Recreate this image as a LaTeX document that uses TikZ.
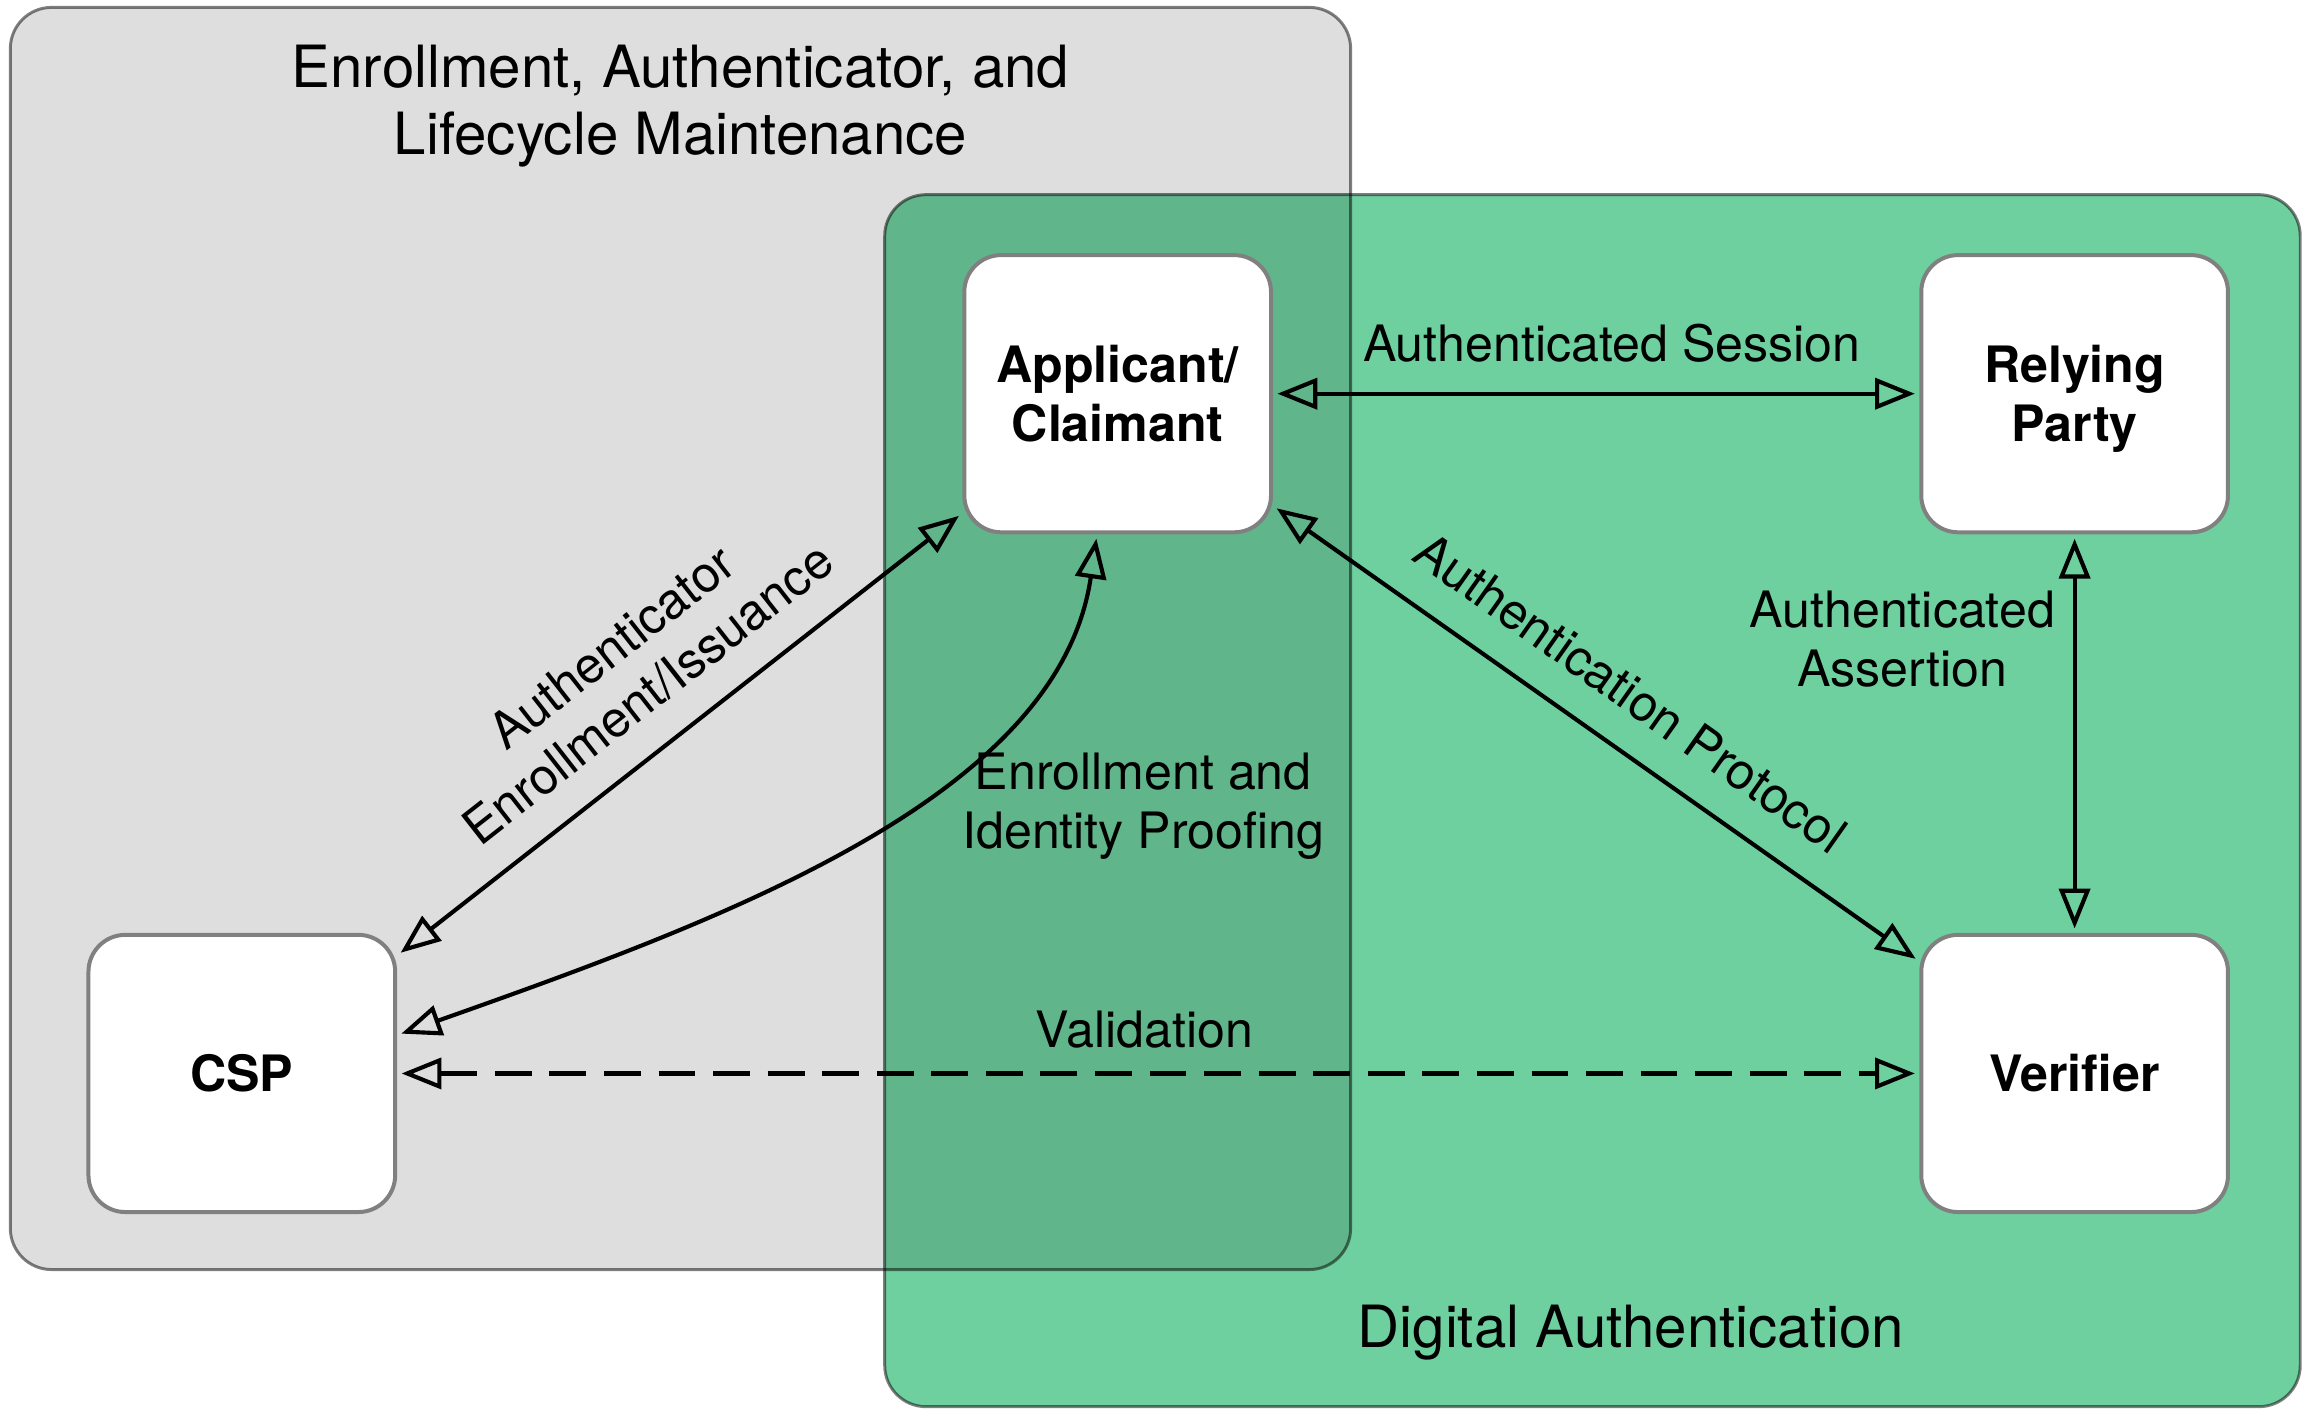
\documentclass[tikz,border=0pt]{standalone}
\usepackage{fontspec}
\setmainfont{TeX Gyre Heros}
\usetikzlibrary{arrows.meta}
\definecolor{boxgray}{RGB}{222,222,222}
\definecolor{boxgreen}{RGB}{111,208,159}
\definecolor{overlapgreen}{RGB}{97,181,138}
\definecolor{nodeborder}{RGB}{128,128,128}
\begin{document}
\begin{tikzpicture}[x=0.5pt,y=-0.5pt,
  entity/.style={draw=nodeborder, line width=1.35pt, fill=white, rounded corners=12.5pt,
    minimum width=104pt, minimum height=94pt, inner sep=0pt, align=center,
    font=\fontsize{17}{20}\selectfont\bfseries},
  lbl/.style={inner sep=0pt, align=center, font=\fontsize{17}{20}\selectfont},
  ttl/.style={inner sep=0pt, align=center, font=\fontsize{19.75}{23}\selectfont},
  link/.style={line width=1.4pt,
    {Triangle[open,length=13.5pt,width=10.5pt]}-{Triangle[open,length=13.5pt,width=10.5pt]},
    shorten <=1.5pt, shorten >=1.5pt},
  boxline/.style={draw=black, draw opacity=0.5, line width=1pt, rounded corners=14pt},
]
\path[use as bounding box] (0,0) rectangle (1568,966);

% container boxes
\fill[boxgray, rounded corners=14pt] (7,5) rectangle (916,861);
\fill[boxgreen, rounded corners=14pt] (600,132) rectangle (1560,954);
\begin{scope}
  \clip[rounded corners=14pt] (7,5) rectangle (916,861);
  \fill[overlapgreen, rounded corners=14pt] (600,132) rectangle (1560,954);
\end{scope}
\draw[boxline] (7,5) rectangle (916,861);
\draw[boxline] (600,132) rectangle (1560,954);

\node[ttl] (ttlA) at (461.5,72) {Enrollment, Authenticator, and\\Lifecycle Maintenance};
\node[ttl] (ttlB) at (1106,904) {Digital Authentication};

% entities
\node[entity] (app) at (758,267) {Applicant/\\Claimant};
\node[entity] (rp)  at (1407,267) {Relying\\\raisebox{0pt}[\height][0pt]{Party}};
\node[entity] (csp) at (164,728) {CSP};
\node[entity] (ver) at (1407,728) {Verifier};

% connectors
\draw[link] (app.east) -- node[lbl, pos=0.524, above=10pt] (lsession) {Authenticated Session} (rp.west);
\draw[link] (rp.south) -- node[lbl, pos=0.263, anchor=east, xshift=-6pt] (lassert) {Authenticated\\Assertion} (ver.north);
\draw[link] ([yshift=-38pt]app.east) -- node[lbl, pos=0.506, sloped, above=11pt] (lproto) {Authentication Protocol} ([yshift=38pt]ver.west);
\draw[link] ([yshift=40pt]csp.east) -- node[lbl, pos=0.5, sloped, above=10.5pt] (lauth) {Authenticator\\Enrollment/Issuance} ([yshift=-40.5pt]app.west);
\draw[link] ([xshift=-7pt]app.south) .. controls (718,541) and (490,624) .. node[lbl, pos=0.4, anchor=west, xshift=11pt, yshift=-5pt] (lenroll) {Enrollment and\\Identity Proofing} ([yshift=13pt]csp.east);
\draw[link, dash pattern=on 12.5pt off 6pt] (csp.east) -- node[lbl, pos=0.491, above=8pt] (lvalid) {Validation} (ver.west);
\end{tikzpicture}
\end{document}
